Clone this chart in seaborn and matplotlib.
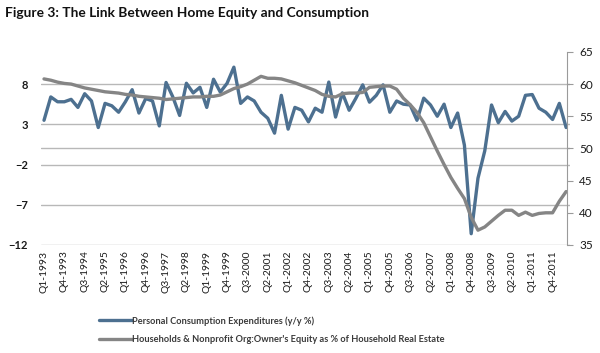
import numpy as np
import pandas as pd
import matplotlib
matplotlib.use('Agg')
import matplotlib.pyplot as plt
import seaborn as sns

# quarterly categories Q1-1993 .. Q2-2012
quarters = [f"Q{q}-{y}" for y in range(1993, 2013) for q in range(1, 5)][:78]

# Personal consumption expenditures, y/y % (left axis)
pce = [3.5, 6.4, 5.8, 5.8, 6.1, 5.1, 6.8, 5.9, 2.6, 5.6,
       5.3, 4.5, 5.8, 7.3, 4.4, 6.2, 5.9, 2.8, 8.2, 6.4,
       4.1, 8.1, 6.9, 7.6, 5.1, 8.6, 7.0, 8.1, 10.1, 5.6,
       6.4, 5.9, 4.5, 3.75, 1.9, 6.6, 2.4, 5.1, 4.75, 3.3,
       5.0, 4.5, 8.25, 3.9, 6.9, 4.75, 6.25, 7.9, 5.75, 6.6,
       7.9, 4.5, 5.9, 5.5, 5.4, 3.5, 6.25, 5.4, 4.0, 5.5,
       2.6, 4.4, 0.4, -10.6, -3.7, -0.3, 5.4, 3.2, 4.6, 3.4,
       4.0, 6.6, 6.7, 5.0, 4.5, 3.6, 5.6, 2.6]

# Owner's equity as % of household real estate (right axis)
equity = [60.8, 60.6, 60.3, 60.1, 60.0, 59.7, 59.4, 59.2, 59.0, 58.8,
          58.7, 58.6, 58.4, 58.3, 58.1, 58.0, 57.9, 57.8, 57.6, 57.7,
          57.8, 57.9, 58.0, 58.0, 58.1, 58.1, 58.3, 58.8, 59.3, 59.6,
          60.0, 60.6, 61.2, 60.9, 60.9, 60.8, 60.5, 60.2, 59.8, 59.4,
          59.0, 58.4, 58.1, 58.0, 58.5, 58.6, 58.6, 58.7, 59.5, 59.6,
          59.7, 59.7, 59.2, 57.8, 56.8, 55.6, 54.0, 51.8, 49.6, 47.5,
          45.5, 43.8, 42.2, 39.3, 37.3, 37.8, 38.7, 39.6, 40.4, 40.4,
          39.6, 40.1, 39.6, 39.9, 40.0, 40.0, 41.8, 43.3]

left_ticks = [-12, -7, -2, 3, 8]
right_ticks = [35, 40, 45, 50, 55, 60, 65]

pce_label = "Personal Consumption Expenditures (y/y %)"
eq_label = "Households & Nonprofit Org:Owner's Equity as % of Household Real Estate"

df = pd.DataFrame({"idx": np.arange(len(quarters)), "quarter": quarters,
                   "pce": pce, "equity": equity})

sns.set_style("white")
plt.rcParams['font.family'] = ['Lato', 'DejaVu Sans']

blue = "#4d7090"
gray = "#858585"
grid_c = "#b8b8b8"

fig = plt.figure(figsize=(6, 3.53), dpi=100)
ax = fig.add_axes([0.0677, 0.306, 0.8815, 0.547])

sns.lineplot(data=df, x="idx", y="pce", ax=ax, color=blue, lw=2.4)
ax.set_xlim(-0.5, len(quarters) - 0.5)
ax.set_ylim(-12, 12)
ax.set_yticks(left_ticks)
ax.yaxis.grid(True, color=grid_c, lw=1)
ax.axhline(0, color=grid_c, lw=1, zorder=0)
ax.set_axisbelow(True)
for s in ax.spines.values():
    s.set_visible(False)
ax.tick_params(axis='y', length=0, pad=9, labelsize=8, labelcolor="#1a1a1a")
for t in ax.get_yticklabels():
    t.set_fontweight("bold")
ax.set_xticks(df["idx"][::3])
ax.set_xticklabels(df["quarter"][::3], rotation=90, fontsize=7.4, color="#1a1a1a")
ax.tick_params(axis='x', length=0, pad=4)
ax.set_xlabel("")
ax.set_ylabel("")

ax2 = ax.twinx()
sns.lineplot(data=df, x="idx", y="equity", ax=ax2, color=gray, lw=2.4)
ax2.set_ylim(35, 65)
ax2.set_yticks(right_ticks)
ax2.set_ylabel("")
for k, s in ax2.spines.items():
    s.set_visible(k == "right")
ax2.spines["right"].set_color("#9a9a9a")
ax2.spines["right"].set_position(("outward", -2))
ax2.tick_params(axis='y', length=4, color="#9a9a9a", pad=5, labelsize=8.5,
                labelcolor="#1a1a1a")

fig.text(0.008, 0.962, "Figure 3: The Link Between Home Equity and Consumption",
         fontsize=9.9, fontweight="bold", color="#111111", va="center")

handles = [plt.Line2D([], [], color=blue, lw=2.4), plt.Line2D([], [], color=gray, lw=2.4)]
fig.legend(handles, [pce_label, eq_label], loc="upper left",
           bbox_to_anchor=(0.165, 1 - 316 / 353), bbox_transform=fig.transFigure,
           frameon=False, handlelength=3.5, handletextpad=0.1, labelspacing=1.05,
           prop={"size": 6.7, "weight": "bold"}, labelcolor="#3a3a3a",
           borderaxespad=0, borderpad=0)

fig.savefig("out.png", dpi=100)
